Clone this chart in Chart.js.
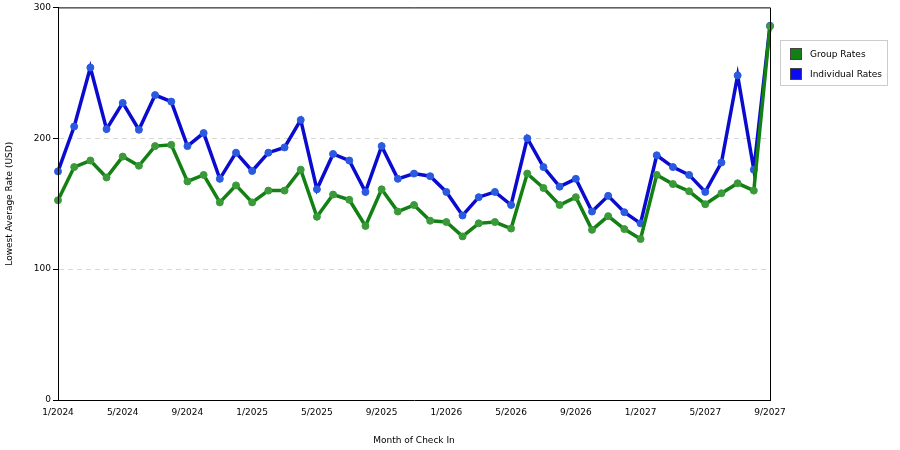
<!DOCTYPE html>
<html><head><meta charset="utf-8">
<script src="https://cdn.jsdelivr.net/npm/chart.js@4"></script>
<style>
body{margin:0;background:#fff;font-family:"DejaVu Sans",sans-serif;}
#wrap{position:relative;width:900px;height:450px;}
#legend{position:absolute;left:780px;top:40px;width:108px;height:46px;border:1px solid #ccc;box-sizing:border-box;font-size:9px;color:#000;}
.it{position:absolute;left:9px;display:flex;align-items:center;}
.sw{width:12px;height:12px;margin-right:8px;box-sizing:border-box;border:1px solid #444;}
</style></head><body>
<div id="wrap"><canvas id="c" width="900" height="450"></canvas>
<div id="legend"><div class="it" style="top:7px"><div class="sw" style="background:#138013"></div>Group Rates</div>
<div class="it" style="top:27px"><div class="sw" style="background:#0b0bf0"></div>Individual Rates</div></div></div>
<script>
const months=[];
for(let y=2024;y<=2027;y++)for(let m=1;m<=12;m++){if(y===2027&&m>9)break;months.push(m+'/'+y);}
const groupRates=[152.6,178,183,170,186,179,194,195,167,172,151,164,151,160,160,176,140,157,153,133,161,144,149,137,136,125,135,136,131,173,162,149,155,130,140.5,130.6,123,172,165,159.5,149.6,158,165.6,160,285.6];
const individualRates=[174.7,209,254,207,227,206.5,233,228,194,204,169,189,175,189,193,214,161,188,183,159,194,169,173,171,159,141,155,159,149,200,178,163,169,144,156,143.5,135,187,178,172,159,181.5,248,176,286];
const yTicks=[0,100,200,300];
const mk=(label,data,c,pc)=>({label,data,borderColor:c,borderWidth:3.5,pointRadius:3.5,pointBackgroundColor:pc,pointBorderColor:pc,pointBorderWidth:1,tension:0});
new Chart(document.getElementById('c'),{type:'line',
data:{labels:months,datasets:[mk('Group Rates',groupRates,'#138013','#3a9a3a'),mk('Individual Rates',individualRates,'#0b0bcf','#2a5ae0')]},
options:{responsive:false,animation:false,layout:{padding:{top:5,right:130,left:0,bottom:0}},
plugins:{legend:{display:false},tooltip:{enabled:false}},
scales:{
x:{offset:false,afterFit:s=>{s.height=50;},grid:{display:false,drawTicks:true,tickLength:5,tickColor:'#000'},border:{color:'#000'},
ticks:{autoSkip:false,maxRotation:0,color:'#000',font:{size:9,family:'DejaVu Sans'},padding:2,callback:(v,i)=>i%4===0?months[i]:''},
title:{display:true,text:'Month of Check In',color:'#000',font:{size:9,family:'DejaVu Sans'},padding:{top:2}}},
y:{min:0,max:300,afterFit:s=>{s.width=58;},afterBuildTicks:s=>{s.ticks=yTicks.map(v=>({value:v}));},
grid:{color:c=>c.tick&&(c.tick.value===100||c.tick.value===200)?'#d8d8d8':'rgba(0,0,0,0)',tickColor:'#000',tickLength:5},
border:{color:'#000',dash:[5,4]},
ticks:{color:'#000',font:{size:9,family:'DejaVu Sans'},padding:2},
title:{display:true,text:'Lowest Average Rate (USD)',color:'#000',font:{size:9,family:'DejaVu Sans'}}}}},
plugins:[{id:'frame',afterDraw(ch){const a=ch.chartArea,x=ch.ctx;x.save();x.strokeStyle='#000';x.lineWidth=1;x.setLineDash([]);x.beginPath();x.moveTo(a.left,a.top+.5);x.lineTo(a.right+.5,a.top+.5);x.lineTo(a.right+.5,a.bottom);x.moveTo(a.left+.5,a.top);x.lineTo(a.left+.5,a.bottom);x.stroke();x.restore();}}]
});
</script></body></html>
